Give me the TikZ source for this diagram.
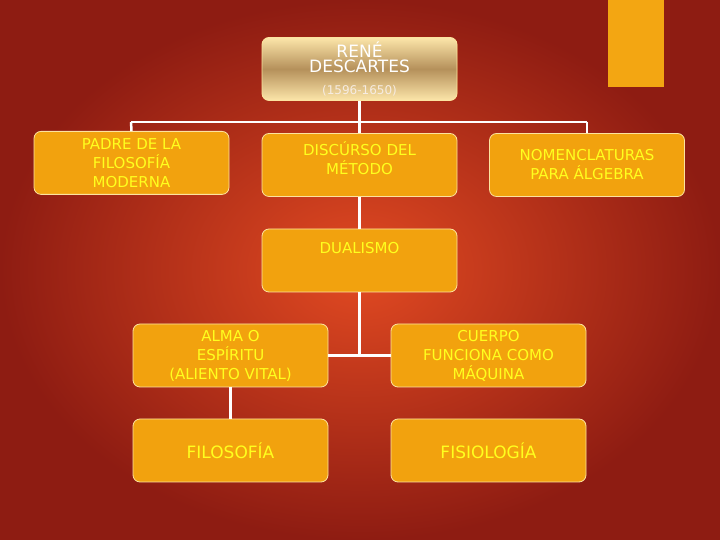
\documentclass[tikz,border=0pt]{standalone}
\usepackage{fontspec}
\setmainfont{DejaVu Sans}
\usetikzlibrary{shadings}
\definecolor{bgin}{HTML}{E24A22}
\definecolor{bgout}{HTML}{8E1C12}
\definecolor{boxf}{HTML}{F2A20E}
\definecolor{boxd}{HTML}{FCE3A0}
\definecolor{txt}{HTML}{FFFF1E}
\definecolor{acc}{HTML}{F3A612}
\begin{document}
\begin{tikzpicture}[x=1pt,y=1pt,
  bx/.style={draw=boxd,line width=0.8pt,fill=boxf,rounded corners=7pt,minimum width=195pt,minimum height=63pt,align=center,text=txt,font=\fontsize{15}{19}\selectfont,inner sep=2pt},
  ln/.style={draw=white,line width=2.5pt}]
\useasboundingbox (0,0) rectangle (720,540);
\shade[inner color=bgin,outer color=bgout] (0,0) rectangle (720,540);
\fill[acc] (608,453) rectangle (664,540);
% connectors first
\coordinate (hl) at (131,418);
\coordinate (hr) at (587,418);
\coordinate (hm) at (359.5,418);
\coordinate (jm) at (359.5,185);
\node[bx,top color=boxd!90!white,bottom color=boxd!90!white,middle color=brown!70!black!60!boxd,shading angle=0,text=white,font=\fontsize{17}{21}\selectfont] (top) at (359.5,471) {\raisebox{4pt}{\shortstack{RENÉ\\DESCARTES}}\\[-3pt]{\fontsize{12}{13}\selectfont\color{white!85!brown}(1596-1650)}};
\node[bx,anchor=north] (padre) at (131.5,409) {PADRE DE LA\\FILOSOFÍA\\MODERNA};
\node[bx] (disc) at (359.5,375) {DISCÚRSO DEL\\MÉTODO\\[-6pt]};
\node[bx] (nom) at (587,375) {NOMENCLATURAS\\PARA ÁLGEBRA};
\node[bx] (dual) at (359.5,279.5) {DUALISMO\\[6pt]};
\node[bx] (alma) at (230.5,184.5) {ALMA O\\ESPÍRITU\\(ALIENTO VITAL)};
\node[bx] (cuer) at (488.5,184.5) {CUERPO\\FUNCIONA COMO\\MÁQUINA};
\node[bx,font=\fontsize{17}{21}\selectfont] (filo) at (230.5,89.5) {FILOSOFÍA};
\node[bx,font=\fontsize{17}{21}\selectfont] (fisi) at (488.5,89.5) {FISIOLOGÍA};
\begin{scope}[on background layer/.style={}]
\end{scope}
\draw[ln] (top.south) -- (disc.north);
\draw[ln] (hl) -- (hr);
\draw[ln] (hl) -- (padre.north);
\draw[ln] (hr) -- (nom.north);
\draw[ln] (disc.south) -- (dual.north);
\draw[ln] (dual.south) -- (jm);
\draw[ln] (alma.east) -- (cuer.west);
\draw[ln] (alma.south) -- (filo.north);
\end{tikzpicture}
\end{document}
